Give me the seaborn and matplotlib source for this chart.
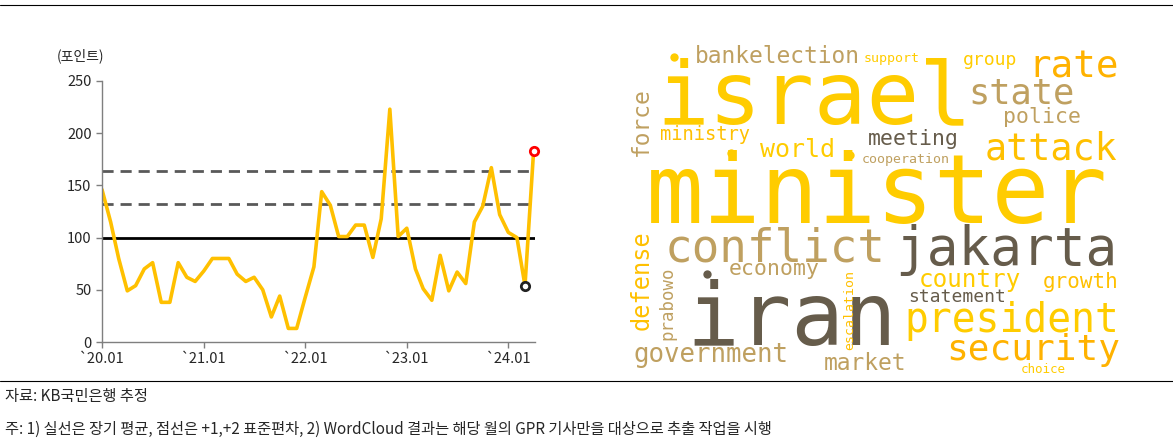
import numpy as np
import pandas as pd
import matplotlib
matplotlib.use("Agg")
import matplotlib.pyplot as plt
import seaborn as sns

# ---------------- data ----------------
months = pd.date_range("2020-01-01", "2024-04-01", freq="MS")
gpr_values = [146, 115, 80, 49, 54, 70, 76, 38, 38, 76, 62, 58,
              68, 80, 80, 80, 65, 58, 62, 50, 24, 44, 13, 13,
              43, 72, 144, 131, 101, 101, 112, 112, 81, 118, 223, 101,
              109, 70, 51, 40, 83, 49, 67, 56, 115, 130, 167, 122,
              105, 100, 54, 183]
long_mean = 100
sd1_line = 132
sd2_line = 164
tick_dates = pd.to_datetime(["2020-01-01", "2021-01-01", "2022-01-01", "2023-01-01", "2024-01-01"])
tick_labels = ["`20.01", "`21.01", "`22.01", "`23.01", "`24.01"]
y_ticks = [0, 50, 100, 150, 200, 250]

words = ["israel", "minister", "iran", "jakarta", "conflict", "president", "security",
         "attack", "rate", "state", "police", "bankelection", "support", "group",
         "ministry", "world", "meeting", "cooperation", "force", "defense", "prabowo",
         "escalation", "economy", "country", "growth", "statement", "government",
         "market", "choice"]
word_sizes = [63, 69, 63, 38, 33, 28.5, 26, 26.5, 27, 25.5, 15.5, 16.5, 9.5, 13,
              13.5, 18, 15.5, 9.5, 16.5, 17, 12.5, 9.5, 15.5, 17.5, 15, 13, 18.5, 16.5, 9]

# ---------------- layout / style (not data) ----------------
YEL, YEL2, ORG, TAN, DARK = "#FFCC00", "#FFC000", "#FFB200", "#BFA060", "#665C4B"
word_colors = [YEL, YEL, DARK, DARK, TAN, YEL, ORG, YEL2, ORG, TAN, TAN, TAN, YEL, YEL,
               YEL2, YEL, DARK, TAN, TAN, YEL2, TAN, YEL2, TAN, YEL, YEL2, DARK, TAN, TAN, YEL]
word_pos = [(814, 123), (877, 223), (792, 345), (1006, 265), (775, 262), (1012, 332),
            (1033, 360), (1051, 160), (1074, 77), (1021, 103), (1042, 123), (777, 63),
            (892, 62), (990, 65), (705, 140), (798, 157), (913, 145), (906, 163),
            (641, 122), (642, 280), (667, 303), (850, 310), (774, 275), (970, 287),
            (1081, 288), (957, 302), (711, 362), (865, 370), (1043, 373)]
word_rot = [0] * len(words)
for w in ["force", "defense", "prabowo", "escalation"]:
    word_rot[words.index(w)] = 90

sns.set_theme(style="white")
plt.rcParams["font.family"] = ["Noto Sans CJK KR", "DejaVu Sans"]

W, H = 1173, 443
fig = plt.figure(figsize=(W / 100, H / 100), dpi=100)

bg = fig.add_axes([0, 0, 1, 1])
bg.set_xlim(0, W)
bg.set_ylim(H, 0)
bg.axis("off")
bg.plot([0, W], [5, 5], color="black", lw=0.8)
bg.plot([0, W], [381, 381], color="black", lw=0.8)
bg.text(5, 397, "자료: KB국민은행 추정", fontsize=11, va="center", ha="left")
bg.text(5, 429, "주: 1) 실선은 장기 평균, 점선은 +1,+2 표준편차, 2) WordCloud 결과는 해당 월의 GPR 기사만을 대상으로 추출 작업을 시행",
        fontsize=11, va="center", ha="left")

for w, s, c, (x, y), r in zip(words, word_sizes, word_colors, word_pos, word_rot):
    if r == 0:
        bg.text(x, y, w, fontsize=s, color=c, ha="center", va="baseline",
                family="DejaVu Sans Mono")
    else:
        bg.text(x, y, w, fontsize=s, color=c, ha="center", va="center", rotation=90,
                family="DejaVu Sans Mono")
for (x, y), c in zip([(674, 57), (731, 153), (850, 155), (707, 274)], [YEL, YEL, YEL, DARK]):
    bg.plot(x, y, "o", ms=6, color=c, mew=0)

ax = fig.add_axes([102 / W, 1 - 342 / H, 433 / W, 261 / H])
df = pd.DataFrame({"date": months, "gpr": gpr_values})
ax.axhline(sd2_line, color="#595959", lw=2, ls=(0, (4, 2.5)), zorder=1)
ax.axhline(sd1_line, color="#595959", lw=2, ls=(0, (4, 2.5)), zorder=1)
ax.axhline(long_mean, color="black", lw=2, zorder=1)
sns.lineplot(data=df, x="date", y="gpr", ax=ax, color="#FFC000", lw=2.6, zorder=2)
ax.plot(df["date"].iloc[-2], df["gpr"].iloc[-2], "o", mfc="white", mec="#222222", mew=2, ms=6,
        zorder=3, clip_on=False)
ax.plot(df["date"].iloc[-1], df["gpr"].iloc[-1], "o", mfc="white", mec="red", mew=2, ms=6,
        zorder=3, clip_on=False)
ax.set_xlim(months[0], months[-1] + pd.Timedelta(days=5))
ax.set_ylim(0, 250)
ax.set_yticks(y_ticks)
ax.set_xticks(tick_dates)
ax.set_xticklabels(tick_labels)
ax.set_xlabel("")
ax.set_ylabel("")
ax.tick_params(axis="both", labelsize=10.5, direction="out", length=4, color="#7f7f7f",
               left=True, bottom=True, width=1)
for sp in ["top", "right"]:
    ax.spines[sp].set_visible(False)
for sp in ["left", "bottom"]:
    ax.spines[sp].set_color("#7f7f7f")
    ax.spines[sp].set_linewidth(1)
ax.set_facecolor("none")
ax.text(-0.105, 1.07, "(포인트)", transform=ax.transAxes, fontsize=10, ha="left", va="bottom")

fig.savefig("out.png", dpi=100)
